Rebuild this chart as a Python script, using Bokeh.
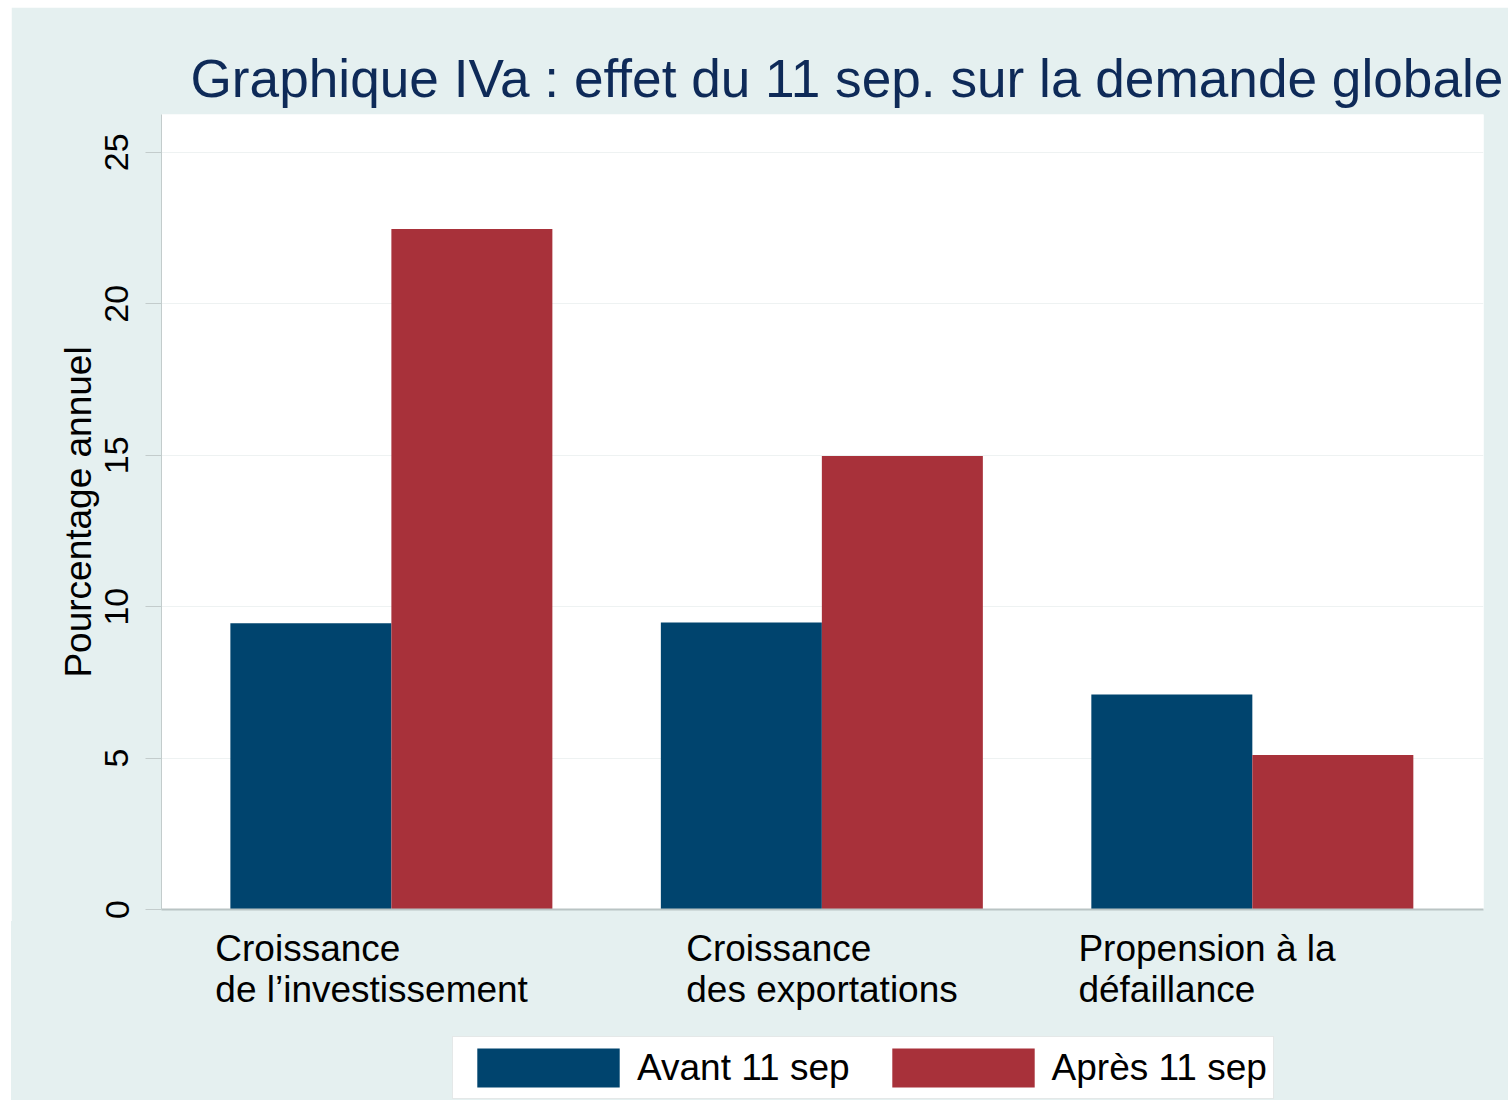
from bokeh.plotting import figure
from bokeh.layouts import column, row
from bokeh.models import (Range1d, Legend, LegendItem, FixedTicker,
                          ColumnDataSource, Spacer)
from bokeh.core.properties import value
from bokeh.transform import dodge
from bokeh.embed import file_html
from bokeh.resources import INLINE

# ---- data ----
categories = ["Croissance\nde l\u2019investissement",
              "Croissance\ndes exportations",
              "Propension \u00e0 la\nd\u00e9faillance"]
avant = [9.45, 9.48, 7.10]
apres = [22.47, 14.97, 5.10]
series_names = ["Avant 11 sep", "Apr\u00e8s 11 sep"]
y_ticks = [0, 5, 10, 15, 20, 25]

# ---- styling / layout ----
positions = [1, 2, 3]
label_offsets = [-0.409, -0.315, -0.404]
BLUE = "#00446e"
RED = "#a8313a"
BG = "#e5f0f0"
TITLE_COLOR = "#0e2a58"
FONT = "Liberation Sans"
bw = 0.374
W = 1497
BL, BR = 150, 25          # left / right borders of the frames

src = ColumnDataSource(dict(pos=positions, avant=avant, apres=apres))
xr = Range1d(0.466, 3.537)

p = figure(width=W, height=914, output_backend="svg", toolbar_location=None,
           x_range=xr, y_range=Range1d(0, 26.25),
           min_border_left=BL, min_border_right=BR, min_border_top=107,
           min_border_bottom=12)
p.background_fill_color = "white"
p.border_fill_color = BG
p.outline_line_color = None

p.vbar(x=dodge("pos", -bw / 2), top="avant", width=bw, source=src,
       fill_color=BLUE, line_color=None)
p.vbar(x=dodge("pos", bw / 2), top="apres", width=bw, source=src,
       fill_color=RED, line_color=None)

# title
p.title.text = "Graphique IVa : effet du 11 sep. sur la demande globale"
p.title.text_font = FONT
p.title.text_font_size = "53.2px"
p.title.text_font_style = "normal"
p.title.text_color = TITLE_COLOR
p.title.align = "left"
p.title.offset = 29
p.title.standoff = 14

# y axis
ya = p.yaxis[0]
ya.ticker = FixedTicker(ticks=y_ticks)
ya.major_label_orientation = "vertical"
ya.major_label_text_font = FONT
ya.major_label_text_font_size = "34px"
ya.major_label_text_color = "black"
ya.major_label_standoff = 17
ya.major_tick_out = 16
ya.major_tick_in = 0
ya.minor_tick_out = 0
ya.minor_tick_in = 0
ya.major_tick_line_color = "#c3cccc"
ya.axis_line_color = "#c3cccc"
ya.axis_label = "Pourcentage annuel"
ya.axis_label_text_font = FONT
ya.axis_label_text_font_size = "37px"
ya.axis_label_text_font_style = "normal"
ya.axis_label_text_color = "black"
ya.axis_label_standoff = 4

# x axis (line only)
xa = p.xaxis[0]
xa.ticker = FixedTicker(ticks=[])
xa.major_tick_out = 0
xa.major_tick_in = 0
xa.minor_tick_out = 0
xa.minor_tick_in = 0
xa.axis_line_color = "#b9c4c4"
xa.axis_line_width = 2

p.xgrid.visible = False
p.ygrid.ticker = FixedTicker(ticks=y_ticks)
p.ygrid.grid_line_color = "#eef2f2"
p.ygrid.grid_line_width = 1

# ---- lower strip: category labels + legend ----
H2 = 179
p2 = figure(width=W, height=H2, output_backend="svg", toolbar_location=None,
            x_range=xr, y_range=Range1d(H2, 0),
            x_axis_location=None, y_axis_location=None,
            min_border_left=BL, min_border_right=BR, min_border_top=0,
            min_border_bottom=0, styles={"background-color": BG})
p2.background_fill_alpha = 0
p2.border_fill_alpha = 0
p2.outline_line_color = None
p2.grid.visible = False

lab_src = ColumnDataSource(dict(
    x=[pos + off for pos, off in zip(positions, label_offsets)],
    y=[6] * len(categories),
    text=categories))
p2.text(x="x", y="y", text="text", source=lab_src, text_align="left",
        text_baseline="top", text_font=value(FONT), text_font_size="37px",
        text_color="black", text_line_height=1.0)

# legend-only renderers (no visible marks)
nan = float("nan")
swatch = ColumnDataSource(dict(x=[nan], top=[nan]))
d1 = p2.vbar(x="x", top="top", width=0.1, source=swatch, fill_color=BLUE,
             line_color=None)
d2 = p2.vbar(x="x", top="top", width=0.1, source=swatch, fill_color=RED,
             line_color=None)

legend = Legend(items=[LegendItem(label=series_names[0], renderers=[d1]),
                       LegendItem(label=series_names[1], renderers=[d2])],
                orientation="horizontal", location=(291, 1),
                glyph_width=178, glyph_height=49, label_height=39,
                label_text_font=FONT, label_text_font_size="37px",
                label_text_color="black",
                label_standoff=0, spacing=24, padding=6, margin=0,
                border_line_color="#c9d1d1", border_line_width=1.5,
                background_fill_color="white", background_fill_alpha=1)
p2.add_layout(legend, "center")

layout = row(Spacer(width=11), column(Spacer(height=7), p, p2, spacing=0),
             spacing=0)

open("out.html", "w").write(file_html(layout, INLINE))
